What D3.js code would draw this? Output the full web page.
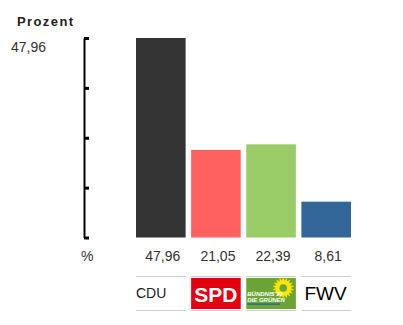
<!DOCTYPE html>
<html>
<head>
<meta charset="utf-8">
<script src="https://cdn.jsdelivr.net/npm/d3@7"></script>
<style>
  body { margin: 0; background: #fff; }
  svg { display: block; font-family: "Liberation Sans", Arial, sans-serif; }
</style>
</head>
<body>
<svg width="403" height="325"></svg>
<script>
// data
const parties = ["CDU", "SPD", "GRÜNE", "FWV"];
const values = [47.96, 21.05, 22.39, 8.61];
const barColors = ["#333333", "#ff6161", "#99cc66", "#336699"];
const valueLabels = ["47,96", "21,05", "22,39", "8,61"];

const fmt = (v) => d3.format(".2f")(v).replace(".", ",");

const svg = d3.select("svg");
const maxVal = d3.max(values);

// scales
const x = d3.scaleBand().domain(parties).range([136, 351]).paddingInner(0.1).paddingOuter(0);
const y = d3.scaleLinear().domain([0, maxVal]).range([237.5, 38]);

// title + max label
svg.append("text")
  .attr("x", 17).attr("y", 26)
  .style("font-size", "13px").style("font-weight", "bold")
  .style("letter-spacing", "1.4px").attr("fill", "#222")
  .text("Prozent");

svg.append("text")
  .attr("x", 11).attr("y", 52)
  .style("font-size", "14px").attr("fill", "#333")
  .text(fmt(maxVal));

// axis
const ticks = d3.range(5).map((i) => (maxVal * i) / 4);
const axis = svg.append("g")
  .attr("transform", "translate(84,0)")
  .call(d3.axisRight(y).tickValues(ticks).tickFormat("").tickSize(5).tickSizeOuter(0));
axis.select(".domain").attr("stroke", "#000").attr("stroke-width", 2);
axis.selectAll(".tick line").attr("stroke", "#000").attr("stroke-width", 3);

// bars
svg.append("g").selectAll("rect")
  .data(parties)
  .join("rect")
  .attr("x", (d) => x(d))
  .attr("y", (d, i) => y(values[i]))
  .attr("width", x.bandwidth())
  .attr("height", (d, i) => y(0) - y(values[i]))
  .attr("fill", (d, i) => barColors[i]);

// value row
svg.append("text")
  .attr("x", 81).attr("y", 261)
  .style("font-size", "14px").attr("fill", "#333")
  .text("%");

svg.append("g").selectAll("text")
  .data(parties)
  .join("text")
  .attr("x", (d) => x(d) + x.bandwidth() / 2 + 2)
  .attr("y", 261)
  .attr("text-anchor", "middle")
  .style("font-size", "14px").attr("fill", "#333")
  .text((d, i) => valueLabels[i]);

// logo row
const bw = x.bandwidth();
const cells = svg.append("g").selectAll("g")
  .data(parties)
  .join("g")
  .attr("transform", (d) => `translate(${x(d)},0)`);

cells.append("line")
  .attr("x1", 0).attr("x2", bw)
  .attr("y1", 276.5).attr("y2", 276.5)
  .attr("stroke", "#ccc");
cells.append("line")
  .attr("x1", 0).attr("x2", bw)
  .attr("y1", 310.5).attr("y2", 310.5)
  .attr("stroke", "#ccc");

// CDU
cells.filter((d) => d === "CDU").append("text")
  .attr("x", 0).attr("y", 298)
  .style("font-size", "14px").attr("fill", "#222")
  .text("CDU");

// SPD
const spd = cells.filter((d) => d === "SPD");
spd.append("rect")
  .attr("x", 0).attr("y", 278).attr("width", bw).attr("height", 31)
  .attr("fill", "#e3000f");
spd.append("text")
  .attr("x", bw / 2).attr("y", 302)
  .attr("text-anchor", "middle")
  .style("font-size", "21px").style("font-weight", "bold")
  .attr("fill", "#fff")
  .text("SPD");

// Grüne
const gr = cells.filter((d) => d === "GRÜNE");
gr.append("rect")
  .attr("x", 0).attr("y", 278).attr("width", bw).attr("height", 31)
  .attr("fill", "#6aa433");
const sun = gr.append("g").attr("transform", "translate(37,288)");
sun.selectAll("path")
  .data(d3.range(18))
  .join("path")
  .attr("d", "M-1.8,-6 L0,-11 L1.8,-6 Z")
  .attr("transform", (d) => `rotate(${d * 20})`)
  .attr("fill", "#ffe600");
sun.append("circle").attr("r", 7).attr("fill", "#ffe600");
sun.append("circle").attr("r", 3.8).attr("fill", "#6aa433");
gr.append("text")
  .attr("x", 1).attr("y", 296)
  .style("font-size", "6px").style("font-weight", "bold").style("font-style", "italic")
  .attr("fill", "#fff")
  .text("BÜNDNIS 90");
gr.append("text")
  .attr("x", 1).attr("y", 302)
  .style("font-size", "6px").style("font-weight", "bold").style("font-style", "italic")
  .attr("fill", "#fff")
  .text("DIE GRÜNEN");
gr.append("rect")
  .attr("x", 1).attr("y", 303.5).attr("width", 33).attr("height", 1.2)
  .attr("fill", "#1e5fa8");

// FWV
cells.filter((d) => d === "FWV").append("text")
  .attr("x", 3).attr("y", 300)
  .style("font-size", "19px").attr("fill", "#000")
  .text("FWV");
</script>
</body>
</html>
